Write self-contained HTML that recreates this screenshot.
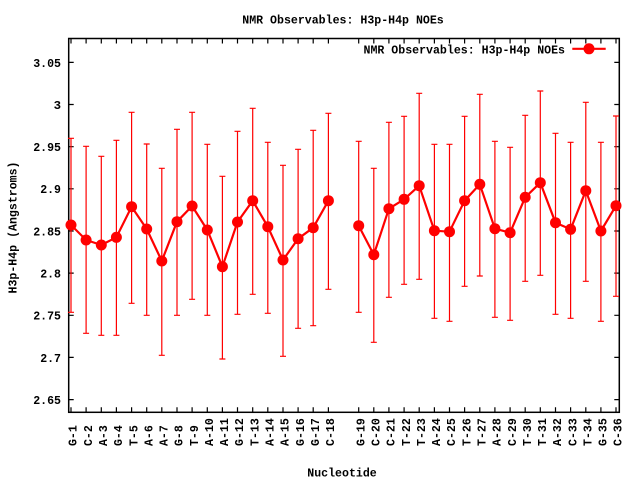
<!DOCTYPE html>
<html>
<head>
<meta charset="utf-8">
<style>
html,body{margin:0;padding:0;background:#fff;}
svg{display:block;}
text{font-family:"Liberation Mono","DejaVu Sans Mono",monospace;font-weight:bold;font-size:12.4px;fill:#000;}
</style>
</head>
<body>
<svg width="640" height="480" viewBox="0 0 640 480" xmlns="http://www.w3.org/2000/svg">
<rect x="0" y="0" width="640" height="480" fill="#fff"/>

<!-- title -->
<text x="343" y="23.5" text-anchor="middle" textLength="201.5" lengthAdjust="spacingAndGlyphs">NMR Observables: H3p-H4p NOEs</text>

<!-- y tick labels -->
<g text-anchor="end">
<text x="61" y="66.8" textLength="27.8" lengthAdjust="spacingAndGlyphs">3.05</text>
<text x="61" y="108.9">3</text>
<text x="61" y="151" textLength="27.8" lengthAdjust="spacingAndGlyphs">2.95</text>
<text x="61" y="193.2" textLength="20.8" lengthAdjust="spacingAndGlyphs">2.9</text>
<text x="61" y="235.3" textLength="27.8" lengthAdjust="spacingAndGlyphs">2.85</text>
<text x="61" y="277.5" textLength="20.8" lengthAdjust="spacingAndGlyphs">2.8</text>
<text x="61" y="319.6" textLength="27.8" lengthAdjust="spacingAndGlyphs">2.75</text>
<text x="61" y="361.8" textLength="20.8" lengthAdjust="spacingAndGlyphs">2.7</text>
<text x="61" y="403.9" textLength="27.8" lengthAdjust="spacingAndGlyphs">2.65</text>
</g>

<!-- y axis label -->
<text transform="translate(16.5,227.5) rotate(-90)" text-anchor="middle" textLength="132" lengthAdjust="spacingAndGlyphs">H3p-H4p (Angstroms)</text>

<!-- x axis label -->
<text x="342" y="476.7" text-anchor="middle" textLength="69.5" lengthAdjust="spacingAndGlyphs">Nucleotide</text>

<!-- border -->
<rect x="68.7" y="38.5" width="550.6" height="373.8" fill="none" stroke="#000" stroke-width="1.5"/>

<!-- ticks -->
<g stroke="#000" stroke-width="1.2">
<path d="M68.7 62.4h5M68.7 104.5h5M68.7 146.7h5M68.7 188.8h5M68.7 231h5M68.7 273.1h5M68.7 315.3h5M68.7 357.4h5M68.7 399.6h5"/>
<path d="M619.3 62.4h-5M619.3 104.5h-5M619.3 146.7h-5M619.3 188.8h-5M619.3 231h-5M619.3 273.1h-5M619.3 315.3h-5M619.3 357.4h-5M619.3 399.6h-5"/>
<path d="M71 412.3v-5M86.1 412.3v-5M101.3 412.3v-5M116.4 412.3v-5M131.6 412.3v-5M146.7 412.3v-5M161.8 412.3v-5M177 412.3v-5M192.1 412.3v-5M207.3 412.3v-5M222.4 412.3v-5M237.5 412.3v-5M252.7 412.3v-5M267.8 412.3v-5M283 412.3v-5M298.1 412.3v-5M313.2 412.3v-5M328.4 412.3v-5M358.7 412.3v-5M373.8 412.3v-5M388.9 412.3v-5M404.1 412.3v-5M419.2 412.3v-5M434.4 412.3v-5M449.5 412.3v-5M464.6 412.3v-5M479.8 412.3v-5M494.9 412.3v-5M510.1 412.3v-5M525.2 412.3v-5M540.3 412.3v-5M555.5 412.3v-5M570.6 412.3v-5M585.8 412.3v-5M600.9 412.3v-5M616 412.3v-5"/>
<path d="M71 38.5v5M86.1 38.5v5M101.3 38.5v5M116.4 38.5v5M131.6 38.5v5M146.7 38.5v5M161.8 38.5v5M177 38.5v5M192.1 38.5v5M207.3 38.5v5M222.4 38.5v5M237.5 38.5v5M252.7 38.5v5M267.8 38.5v5M283 38.5v5M298.1 38.5v5M313.2 38.5v5M328.4 38.5v5M358.7 38.5v5M373.8 38.5v5M388.9 38.5v5M404.1 38.5v5M419.2 38.5v5M434.4 38.5v5M449.5 38.5v5M464.6 38.5v5M479.8 38.5v5M494.9 38.5v5M510.1 38.5v5M525.2 38.5v5M540.3 38.5v5M555.5 38.5v5M570.6 38.5v5M585.8 38.5v5M600.9 38.5v5M616 38.5v5"/>
</g>

<!-- x tick labels (rotated) -->
<g text-anchor="start" lengthAdjust="spacingAndGlyphs">
<text transform="translate(76.7,446) rotate(-90)" textLength="20.8" lengthAdjust="spacingAndGlyphs">G-1</text>
<text transform="translate(91.8,446) rotate(-90)" textLength="20.8" lengthAdjust="spacingAndGlyphs">C-2</text>
<text transform="translate(107,446) rotate(-90)" textLength="20.8" lengthAdjust="spacingAndGlyphs">A-3</text>
<text transform="translate(122.1,446) rotate(-90)" textLength="20.8" lengthAdjust="spacingAndGlyphs">G-4</text>
<text transform="translate(137.3,446) rotate(-90)" textLength="20.8" lengthAdjust="spacingAndGlyphs">T-5</text>
<text transform="translate(152.4,446) rotate(-90)" textLength="20.8" lengthAdjust="spacingAndGlyphs">A-6</text>
<text transform="translate(167.5,446) rotate(-90)" textLength="20.8" lengthAdjust="spacingAndGlyphs">A-7</text>
<text transform="translate(182.7,446) rotate(-90)" textLength="20.8" lengthAdjust="spacingAndGlyphs">G-8</text>
<text transform="translate(197.8,446) rotate(-90)" textLength="20.8" lengthAdjust="spacingAndGlyphs">T-9</text>
<text transform="translate(213,446) rotate(-90)" textLength="27.8" lengthAdjust="spacingAndGlyphs">A-10</text>
<text transform="translate(228.1,446) rotate(-90)" textLength="27.8" lengthAdjust="spacingAndGlyphs">A-11</text>
<text transform="translate(243.2,446) rotate(-90)" textLength="27.8" lengthAdjust="spacingAndGlyphs">G-12</text>
<text transform="translate(258.4,446) rotate(-90)" textLength="27.8" lengthAdjust="spacingAndGlyphs">T-13</text>
<text transform="translate(273.5,446) rotate(-90)" textLength="27.8" lengthAdjust="spacingAndGlyphs">A-14</text>
<text transform="translate(288.7,446) rotate(-90)" textLength="27.8" lengthAdjust="spacingAndGlyphs">A-15</text>
<text transform="translate(303.8,446) rotate(-90)" textLength="27.8" lengthAdjust="spacingAndGlyphs">G-16</text>
<text transform="translate(318.9,446) rotate(-90)" textLength="27.8" lengthAdjust="spacingAndGlyphs">G-17</text>
<text transform="translate(334.1,446) rotate(-90)" textLength="27.8" lengthAdjust="spacingAndGlyphs">C-18</text>
<text transform="translate(364.4,446) rotate(-90)" textLength="27.8" lengthAdjust="spacingAndGlyphs">G-19</text>
<text transform="translate(379.5,446) rotate(-90)" textLength="27.8" lengthAdjust="spacingAndGlyphs">C-20</text>
<text transform="translate(394.6,446) rotate(-90)" textLength="27.8" lengthAdjust="spacingAndGlyphs">C-21</text>
<text transform="translate(409.8,446) rotate(-90)" textLength="27.8" lengthAdjust="spacingAndGlyphs">T-22</text>
<text transform="translate(424.9,446) rotate(-90)" textLength="27.8" lengthAdjust="spacingAndGlyphs">T-23</text>
<text transform="translate(440.1,446) rotate(-90)" textLength="27.8" lengthAdjust="spacingAndGlyphs">A-24</text>
<text transform="translate(455.2,446) rotate(-90)" textLength="27.8" lengthAdjust="spacingAndGlyphs">C-25</text>
<text transform="translate(470.3,446) rotate(-90)" textLength="27.8" lengthAdjust="spacingAndGlyphs">T-26</text>
<text transform="translate(485.5,446) rotate(-90)" textLength="27.8" lengthAdjust="spacingAndGlyphs">T-27</text>
<text transform="translate(500.6,446) rotate(-90)" textLength="27.8" lengthAdjust="spacingAndGlyphs">A-28</text>
<text transform="translate(515.8,446) rotate(-90)" textLength="27.8" lengthAdjust="spacingAndGlyphs">C-29</text>
<text transform="translate(530.9,446) rotate(-90)" textLength="27.8" lengthAdjust="spacingAndGlyphs">T-30</text>
<text transform="translate(546,446) rotate(-90)" textLength="27.8" lengthAdjust="spacingAndGlyphs">T-31</text>
<text transform="translate(561.2,446) rotate(-90)" textLength="27.8" lengthAdjust="spacingAndGlyphs">A-32</text>
<text transform="translate(576.3,446) rotate(-90)" textLength="27.8" lengthAdjust="spacingAndGlyphs">C-33</text>
<text transform="translate(591.5,446) rotate(-90)" textLength="27.8" lengthAdjust="spacingAndGlyphs">T-34</text>
<text transform="translate(606.6,446) rotate(-90)" textLength="27.8" lengthAdjust="spacingAndGlyphs">G-35</text>
<text transform="translate(621.7,446) rotate(-90)" textLength="27.8" lengthAdjust="spacingAndGlyphs">C-36</text>
</g>

<!-- error bars -->
<g stroke="#ff0000" stroke-width="1.2" fill="none">
<path d="M71 138.3V312.3M68 138.3h6M68 312.3h6"/>
<path d="M86.1 146.3V333.3M83.1 146.3h6M83.1 333.3h6"/>
<path d="M101.3 156.3V335.3M98.3 156.3h6M98.3 335.3h6"/>
<path d="M116.4 140.3V335.3M113.4 140.3h6M113.4 335.3h6"/>
<path d="M131.6 112.3V303.3M128.6 112.3h6M128.6 303.3h6"/>
<path d="M146.7 144V315.3M143.7 144h6M143.7 315.3h6"/>
<path d="M161.8 168.3V355.3M158.8 168.3h6M158.8 355.3h6"/>
<path d="M177 129.3V315.3M174 129.3h6M174 315.3h6"/>
<path d="M192.1 112.3V299.3M189.1 112.3h6M189.1 299.3h6"/>
<path d="M207.3 144.3V315.3M204.3 144.3h6M204.3 315.3h6"/>
<path d="M222.4 176.3V359M219.4 176.3h6M219.4 359h6"/>
<path d="M237.5 131.3V314.3M234.5 131.3h6M234.5 314.3h6"/>
<path d="M252.7 108.3V294.3M249.7 108.3h6M249.7 294.3h6"/>
<path d="M267.8 142.3V313.3M264.8 142.3h6M264.8 313.3h6"/>
<path d="M283 165.3V356.3M280 165.3h6M280 356.3h6"/>
<path d="M298.1 149.3V328.3M295.1 149.3h6M295.1 328.3h6"/>
<path d="M313.2 130.3V325.7M310.2 130.3h6M310.2 325.7h6"/>
<path d="M328.4 113.3V289.3M325.4 113.3h6M325.4 289.3h6"/>
<path d="M358.7 141.3V312.3M355.7 141.3h6M355.7 312.3h6"/>
<path d="M373.8 168.3V342.3M370.8 168.3h6M370.8 342.3h6"/>
<path d="M388.9 122.3V297.3M385.9 122.3h6M385.9 297.3h6"/>
<path d="M404.1 116.3V284.3M401.1 116.3h6M401.1 284.3h6"/>
<path d="M419.2 93.3V279.3M416.2 93.3h6M416.2 279.3h6"/>
<path d="M434.4 144.3V318.3M431.4 144.3h6M431.4 318.3h6"/>
<path d="M449.5 144.3V321.3M446.5 144.3h6M446.5 321.3h6"/>
<path d="M464.6 116.3V286.3M461.6 116.3h6M461.6 286.3h6"/>
<path d="M479.8 94.3V276M476.8 94.3h6M476.8 276h6"/>
<path d="M494.9 141.3V317.3M491.9 141.3h6M491.9 317.3h6"/>
<path d="M510.1 147.3V320.3M507.1 147.3h6M507.1 320.3h6"/>
<path d="M525.2 115.3V281.3M522.2 115.3h6M522.2 281.3h6"/>
<path d="M540.3 91V275.3M537.3 91h6M537.3 275.3h6"/>
<path d="M555.5 133.3V314.3M552.5 133.3h6M552.5 314.3h6"/>
<path d="M570.6 142.3V318.3M567.6 142.3h6M567.6 318.3h6"/>
<path d="M585.8 102.3V281.3M582.8 102.3h6M582.8 281.3h6"/>
<path d="M600.9 142.3V321.3M597.9 142.3h6M597.9 321.3h6"/>
<path d="M616 116V296.3M613 116h6M613 296.3h6"/>
</g>

<!-- data lines -->
<g stroke="#ff0000" stroke-width="2.2" fill="none" stroke-linejoin="round">
<polyline points="71,225 86.1,240 101.3,245 116.4,237.3 131.6,206.7 146.7,229 161.8,261 177,221.7 192.1,206 207.3,230 222.4,266.7 237.5,222 252.7,200.7 267.8,226.7 283,260 298.1,238.7 313.2,227.7 328.4,200.7"/>
<polyline points="358.7,225.7 373.8,254.7 388.9,208.7 404.1,199.3 419.2,185.7 434.4,230.7 449.5,231.7 464.6,200.7 479.8,184.3 494.9,228.7 510.1,232.7 525.2,197.3 540.3,182.7 555.5,222.7 570.6,229.3 585.8,190.7 600.9,231 616,205.7"/>
</g>

<!-- markers -->
<g fill="#ff0000">
<circle cx="71" cy="225" r="5.5"/>
<circle cx="86.1" cy="240" r="5.5"/>
<circle cx="101.3" cy="245" r="5.5"/>
<circle cx="116.4" cy="237.3" r="5.5"/>
<circle cx="131.6" cy="206.7" r="5.5"/>
<circle cx="146.7" cy="229" r="5.5"/>
<circle cx="161.8" cy="261" r="5.5"/>
<circle cx="177" cy="221.7" r="5.5"/>
<circle cx="192.1" cy="206" r="5.5"/>
<circle cx="207.3" cy="230" r="5.5"/>
<circle cx="222.4" cy="266.7" r="5.5"/>
<circle cx="237.5" cy="222" r="5.5"/>
<circle cx="252.7" cy="200.7" r="5.5"/>
<circle cx="267.8" cy="226.7" r="5.5"/>
<circle cx="283" cy="260" r="5.5"/>
<circle cx="298.1" cy="238.7" r="5.5"/>
<circle cx="313.2" cy="227.7" r="5.5"/>
<circle cx="328.4" cy="200.7" r="5.5"/>
<circle cx="358.7" cy="225.7" r="5.5"/>
<circle cx="373.8" cy="254.7" r="5.5"/>
<circle cx="388.9" cy="208.7" r="5.5"/>
<circle cx="404.1" cy="199.3" r="5.5"/>
<circle cx="419.2" cy="185.7" r="5.5"/>
<circle cx="434.4" cy="230.7" r="5.5"/>
<circle cx="449.5" cy="231.7" r="5.5"/>
<circle cx="464.6" cy="200.7" r="5.5"/>
<circle cx="479.8" cy="184.3" r="5.5"/>
<circle cx="494.9" cy="228.7" r="5.5"/>
<circle cx="510.1" cy="232.7" r="5.5"/>
<circle cx="525.2" cy="197.3" r="5.5"/>
<circle cx="540.3" cy="182.7" r="5.5"/>
<circle cx="555.5" cy="222.7" r="5.5"/>
<circle cx="570.6" cy="229.3" r="5.5"/>
<circle cx="585.8" cy="190.7" r="5.5"/>
<circle cx="600.9" cy="231" r="5.5"/>
<circle cx="616" cy="205.7" r="5.5"/>
</g>

<!-- legend -->
<text x="565" y="53.5" text-anchor="end" textLength="201.5" lengthAdjust="spacingAndGlyphs">NMR Observables: H3p-H4p NOEs</text>
<line x1="572.3" y1="48.8" x2="605.7" y2="48.8" stroke="#ff0000" stroke-width="2.2"/>
<circle cx="589" cy="48.8" r="5.5" fill="#ff0000"/>
</svg>
</body>
</html>
